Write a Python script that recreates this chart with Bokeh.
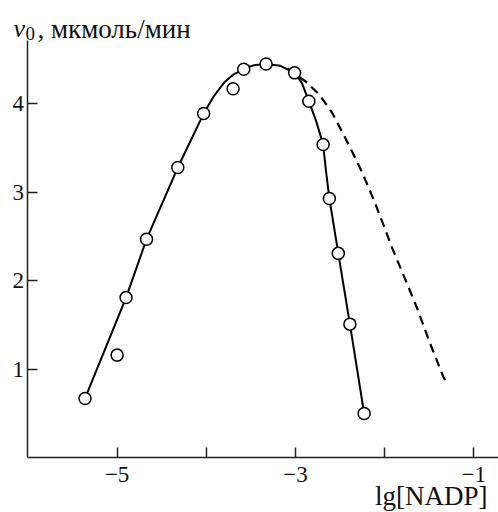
from bokeh.plotting import figure
from bokeh.models import FixedTicker, Label
from bokeh.embed import file_html
from bokeh.resources import INLINE

# measured points
lg_nadp = [-5.36, -5.00, -4.90, -4.67, -4.32, -4.03, -3.70, -3.58, -3.33,
           -3.01, -2.85, -2.69, -2.62, -2.52, -2.39, -2.23]
v0 = [0.67, 1.16, 1.81, 2.47, 3.28, 3.89, 4.17, 4.39, 4.45,
      4.35, 4.03, 3.54, 2.93, 2.31, 1.51, 0.50]

# fitted solid curve
fit_x = [-5.36, -4.90, -4.67, -4.32, -4.03, -3.92, -3.80, -3.70, -3.58, -3.52,
         -3.45, -3.33, -3.17, -3.01, -2.93, -2.85, -2.77, -2.69, -2.66, -2.62,
         -2.52, -2.39, -2.23]
fit_y = [0.67, 1.81, 2.47, 3.28, 3.89, 4.08, 4.24, 4.33, 4.39, 4.42,
         4.44, 4.45, 4.43, 4.35, 4.24, 4.03, 3.81, 3.54, 3.26, 2.93,
         2.31, 1.51, 0.50]

# dashed theoretical curve
dash_x = [-3.09, -2.87, -2.73, -2.59, -2.48, -2.36, -2.25, -2.12, -1.99,
          -1.92, -1.75, -1.64, -1.49, -1.34, -1.30]
dash_y = [4.40, 4.24, 4.10, 3.90, 3.69, 3.45, 3.22, 2.91, 2.57,
          2.38, 1.97, 1.70, 1.29, 0.91, 0.84]

x_ticks = [-5, -3, -1]
x_tick_labels = ["\u22125", "\u22123", "\u22121"]
x_minor_ticks = [-4, -2]
y_ticks = [1, 2, 3, 4]

x_min, x_view_min, x_view_max = -6.0, -6.308, -0.7235
y_min, y_max, y_view_min, y_view_max = 0.0, 4.716, -0.619, 5.168

FONT = "Liberation Serif"

p = figure(width=498, height=512, x_range=(x_view_min, x_view_max),
           y_range=(y_view_min, y_view_max),
           output_backend="svg", toolbar_location=None,
           min_border=0, min_border_left=0, min_border_right=0,
           min_border_top=0, min_border_bottom=0)
p.outline_line_color = None
p.grid.visible = False
p.background_fill_color = "white"
p.border_fill_color = "white"

for ax in (p.xaxis[0], p.yaxis[0]):
    ax.axis_line_color = "#222222"
    ax.axis_line_width = 1.5
    ax.major_tick_line_color = "#222222"
    ax.major_tick_line_width = 1.5
    ax.minor_tick_line_color = "#222222"
    ax.minor_tick_line_width = 1.5
    ax.major_tick_in = 10
    ax.major_tick_out = 0
    ax.minor_tick_in = 10
    ax.minor_tick_out = 0
    ax.major_label_text_font = FONT
    ax.major_label_text_font_size = "23px"
    ax.major_label_text_color = "#111111"

xa = p.xaxis[0]
xa.fixed_location = y_min
xa.bounds = (x_min, x_view_max)
xa.ticker = FixedTicker(ticks=x_ticks, minor_ticks=x_minor_ticks)
xa.major_label_overrides = {float(t): l for t, l in zip(x_ticks, x_tick_labels)}
xa.major_label_standoff = 9

ya = p.yaxis[0]
ya.fixed_location = x_min
ya.bounds = (y_min, y_max)
ya.ticker = FixedTicker(ticks=y_ticks, minor_ticks=[])
ya.major_label_standoff = 4

p.line(dash_x, dash_y, line_color="black", line_width=2.2, line_dash="9 6")
p.line(fit_x, fit_y, line_color="black", line_width=2.0, line_join="round")
p.scatter(lg_nadp, v0, size=12, fill_color="white", line_color="black", line_width=1.5)

# axis titles
p.add_layout(Label(x=-6.163, y=4.851, text="v", text_font=FONT, text_font_style="italic",
                   text_font_size="26px", text_baseline="alphabetic", text_color="#111111"))
p.add_layout(Label(x=-6.163, y=4.851, x_offset=12, y_offset=-5, text="0", text_font=FONT,
                   text_font_size="19px", text_baseline="alphabetic", text_color="#111111"))
p.add_layout(Label(x=-6.163, y=4.851, x_offset=24, text=", мкмоль/мин", text_font=FONT,
                   text_font_size="27px", text_baseline="alphabetic", text_color="#111111"))
p.add_layout(Label(x=-0.847, y=-0.597, text="lg[NADP]", text_font=FONT,
                   text_font_size="27px", text_align="right", text_baseline="bottom",
                   text_color="#111111"))

open("out.html", "w").write(file_html(p, INLINE))
